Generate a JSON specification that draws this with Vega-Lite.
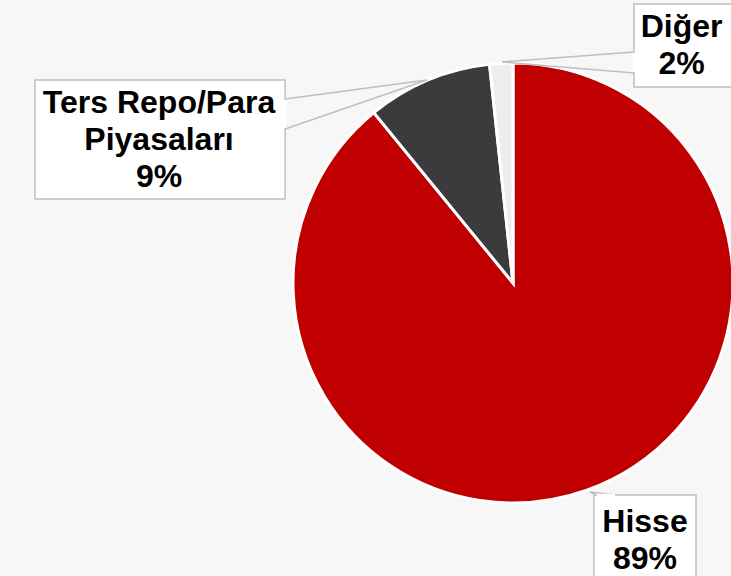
{
  "$schema": "https://vega.github.io/schema/vega-lite/v6.json",
  "width": 731,
  "height": 576,
  "autosize": {"type": "none"},
  "padding": 0,
  "background": "#F7F7F7",
  "config": {"view": {"stroke": null}, "axis": {"disable": true}, "legend": {"disable": true}},
  "data": {
    "values": [
      {"category": "Hisse", "value": 89.1, "label": ["Hisse", "89%"]},
      {"category": "Ters Repo/Para Piyasaları", "value": 9.2, "label": ["Ters Repo/Para", "Piyasaları", "9%"]},
      {"category": "Diğer", "value": 1.7, "label": ["Diğer", "2%"]}
    ]
  },
  "layer": [
    {
      "mark": {"type": "arc", "outerRadius": 220, "stroke": "white", "strokeWidth": 3},
      "encoding": {
        "theta": {"field": "value", "type": "quantitative", "stack": true},
        "order": {"field": "value", "type": "quantitative", "sort": "descending"},
        "color": {"field": "category", "type": "nominal", "scale": {"domain": ["Hisse", "Ters Repo/Para Piyasaları", "Diğer"], "range": ["#C00000", "#3B3A3C", "#EDEDED"]}, "legend": null},
        "x": {"datum": 0, "type": "quantitative", "scale": {"domain": [-233.18, 99.09], "nice": false, "zero": false}},
        "y": {"datum": 0, "type": "quantitative", "scale": {"domain": [-133.18, 128.64], "nice": false, "zero": false}}
      }
    },
    {
      "transform": [{"filter": "datum.category === 'Ters Repo/Para Piyasaları'"}],
      "layer": [
        {"mark": {"type": "rule", "stroke": "#BFBFBF", "strokeWidth": 1.5},
         "encoding": {"x": {"datum": -103.6, "type": "quantitative", "scale": {"domain": [-233.18, 99.09], "nice": false, "zero": false}}, "y": {"datum": 83.6, "type": "quantitative", "scale": {"domain": [-133.18, 128.64], "nice": false, "zero": false}}, "x2": {"datum": -39.1}, "y2": {"datum": 92.3}}},
        {"mark": {"type": "rule", "stroke": "#BFBFBF", "strokeWidth": 1.5},
         "encoding": {"x": {"datum": -103.6, "type": "quantitative", "scale": {"domain": [-233.18, 99.09], "nice": false, "zero": false}}, "y": {"datum": 70.0, "type": "quantitative", "scale": {"domain": [-133.18, 128.64], "nice": false, "zero": false}}, "x2": {"datum": -39.1}, "y2": {"datum": 92.3}}},
        {"mark": {"type": "rect", "fill": "white", "stroke": "#BFBFBF", "strokeWidth": 1.5},
         "encoding": {"x": {"datum": -217.3, "type": "quantitative", "scale": {"domain": [-233.18, 99.09], "nice": false, "zero": false}}, "x2": {"datum": -103.6}, "y": {"datum": 92.3, "type": "quantitative", "scale": {"domain": [-133.18, 128.64], "nice": false, "zero": false}}, "y2": {"datum": 38.2}}},
        {"mark": {"type": "rule", "stroke": "white", "strokeWidth": 2.5},
         "encoding": {"x": {"datum": -103.6, "type": "quantitative", "scale": {"domain": [-233.18, 99.09], "nice": false, "zero": false}}, "y": {"datum": 83.2, "type": "quantitative", "scale": {"domain": [-133.18, 128.64], "nice": false, "zero": false}}, "y2": {"datum": 70.4}}},
        {"mark": {"type": "text", "font": "Liberation Sans", "fontWeight": "bold", "fontSize": 32, "lineHeight": 37, "align": "center", "baseline": "alphabetic", "color": "black"},
         "encoding": {"x": {"datum": -160.9, "type": "quantitative", "scale": {"domain": [-233.18, 99.09], "nice": false, "zero": false}}, "y": {"datum": 77.3, "type": "quantitative", "scale": {"domain": [-133.18, 128.64], "nice": false, "zero": false}}, "text": {"field": "label"}}}
      ]
    },
    {
      "transform": [{"filter": "datum.category === 'Diğer'"}],
      "layer": [
        {"mark": {"type": "rule", "stroke": "#BFBFBF", "strokeWidth": 1.5},
         "encoding": {"x": {"datum": 55.0, "type": "quantitative", "scale": {"domain": [-233.18, 99.09], "nice": false, "zero": false}}, "y": {"datum": 105.0, "type": "quantitative", "scale": {"domain": [-133.18, 128.64], "nice": false, "zero": false}}, "x2": {"datum": -5.0}, "y2": {"datum": 100.5}}},
        {"mark": {"type": "rule", "stroke": "#BFBFBF", "strokeWidth": 1.5},
         "encoding": {"x": {"datum": 55.0, "type": "quantitative", "scale": {"domain": [-233.18, 99.09], "nice": false, "zero": false}}, "y": {"datum": 95.5, "type": "quantitative", "scale": {"domain": [-133.18, 128.64], "nice": false, "zero": false}}, "x2": {"datum": -5.0}, "y2": {"datum": 100.5}}},
        {"mark": {"type": "rect", "fill": "white", "stroke": "#BFBFBF", "strokeWidth": 1.5},
         "encoding": {"x": {"datum": 55.0, "type": "quantitative", "scale": {"domain": [-233.18, 99.09], "nice": false, "zero": false}}, "x2": {"datum": 102}, "y": {"datum": 126.8, "type": "quantitative", "scale": {"domain": [-133.18, 128.64], "nice": false, "zero": false}}, "y2": {"datum": 89.1}}},
        {"mark": {"type": "rule", "stroke": "white", "strokeWidth": 2.5},
         "encoding": {"x": {"datum": 55.0, "type": "quantitative", "scale": {"domain": [-233.18, 99.09], "nice": false, "zero": false}}, "y": {"datum": 104.6, "type": "quantitative", "scale": {"domain": [-133.18, 128.64], "nice": false, "zero": false}}, "y2": {"datum": 95.9}}},
        {"mark": {"type": "text", "font": "Liberation Sans", "fontWeight": "bold", "fontSize": 32, "lineHeight": 37, "align": "center", "baseline": "alphabetic", "color": "black"},
         "encoding": {"x": {"datum": 76.6, "type": "quantitative", "scale": {"domain": [-233.18, 99.09], "nice": false, "zero": false}}, "y": {"datum": 111.8, "type": "quantitative", "scale": {"domain": [-133.18, 128.64], "nice": false, "zero": false}}, "text": {"field": "label"}}}
      ]
    },
    {
      "transform": [{"filter": "datum.category === 'Hisse'"}],
      "layer": [
        {"mark": {"type": "rule", "stroke": "#BFBFBF", "strokeWidth": 1.5},
         "encoding": {"x": {"datum": 37.7, "type": "quantitative", "scale": {"domain": [-233.18, 99.09], "nice": false, "zero": false}}, "y": {"datum": -96.4, "type": "quantitative", "scale": {"domain": [-133.18, 128.64], "nice": false, "zero": false}}, "x2": {"datum": 35.0}, "y2": {"datum": -95.0}}},
        {"mark": {"type": "rule", "stroke": "#BFBFBF", "strokeWidth": 1.5},
         "encoding": {"x": {"datum": 46.8, "type": "quantitative", "scale": {"domain": [-233.18, 99.09], "nice": false, "zero": false}}, "y": {"datum": -96.4, "type": "quantitative", "scale": {"domain": [-133.18, 128.64], "nice": false, "zero": false}}, "x2": {"datum": 35.0}, "y2": {"datum": -95.0}}},
        {"mark": {"type": "rect", "fill": "white", "stroke": "#BFBFBF", "strokeWidth": 1.5},
         "encoding": {"x": {"datum": 36.8, "type": "quantitative", "scale": {"domain": [-233.18, 99.09], "nice": false, "zero": false}}, "x2": {"datum": 83.2}, "y": {"datum": -96.4, "type": "quantitative", "scale": {"domain": [-133.18, 128.64], "nice": false, "zero": false}}, "y2": {"datum": -135}}},
        {"mark": {"type": "rule", "stroke": "white", "strokeWidth": 2.5},
         "encoding": {"x": {"datum": 38.1, "type": "quantitative", "scale": {"domain": [-233.18, 99.09], "nice": false, "zero": false}}, "x2": {"datum": 46.4}, "y": {"datum": -96.4, "type": "quantitative", "scale": {"domain": [-133.18, 128.64], "nice": false, "zero": false}}}},
        {"mark": {"type": "text", "font": "Liberation Sans", "fontWeight": "bold", "fontSize": 32, "lineHeight": 37, "align": "center", "baseline": "alphabetic", "color": "black"},
         "encoding": {"x": {"datum": 60.0, "type": "quantitative", "scale": {"domain": [-233.18, 99.09], "nice": false, "zero": false}}, "y": {"datum": -113.2, "type": "quantitative", "scale": {"domain": [-133.18, 128.64], "nice": false, "zero": false}}, "text": {"field": "label"}}}
      ]
    }
  ]
}
